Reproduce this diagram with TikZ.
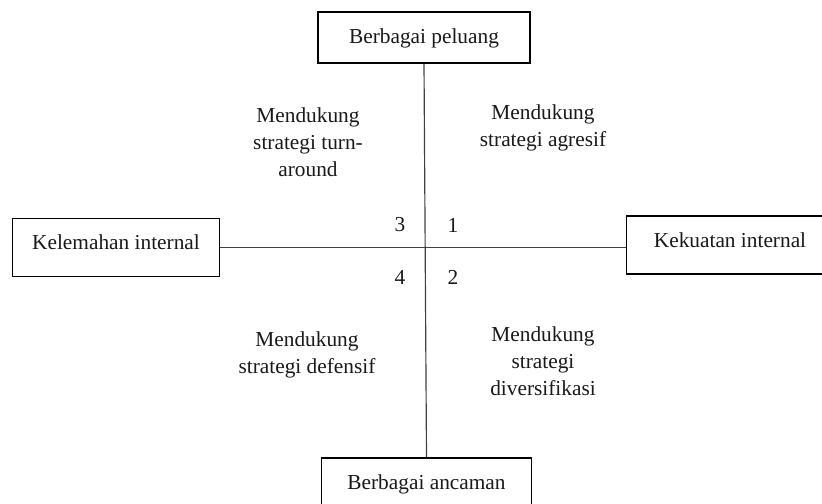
\documentclass[tikz,border=0pt]{standalone}
\usepackage{fontspec}
\setmainfont{Liberation Serif}
\usepackage{tikz}

\begin{document}
\begin{tikzpicture}[x=0.6pt, y=-0.6pt,
        every node/.style = {font=\fontsize{12.8}{16.2}\selectfont, text=black!90},
        kotak/.style = {draw, line width=0.9pt, inner ysep=8pt, inner xsep=0pt,
                text height=10.8pt, text depth=7.8pt, minimum width=124pt},
        isi/.style = {align=center, inner sep=0pt},
        garis/.style = {line width=0.7pt, black!75}]
                \useasboundingbox (0,0) rectangle (822,504);

                \node [kotak, text depth=3.8pt, minimum width=127pt] (peluang) at (424,37.5) {Berbagai peluang};
                \node [kotak] (kelemahan) at (116,247.5) {Kelemahan internal};
                \node [kotak] (kekuatan) at (730,245) {Kekuatan internal};
                \node [kotak, minimum width=126pt] (ancaman) at (426.5,487) {Berbagai ancaman};

                \draw [garis] (peluang.south) -- (ancaman.north);
                \draw [garis] (kelemahan.east) -- (kelemahan.east -| kekuatan.west);

                \node [isi] (turnaround) at (308,142) {Mendukung\\strategi turn-\\around};
                \node [isi] (agresif) at (543,128) {Mendukung\\strategi agresif};
                \node [isi] (defensif) at (307,355) {Mendukung\\strategi defensif};
                \node [isi] (diversifikasi) at (543,361) {Mendukung\\strategi\\diversifikasi};

                % nomor kuadran
                \node (k3) at (400,225) {3};
                \node (k1) at (453,225) {1};
                \node (k4) at (400,277) {4};
                \node (k2) at (453,277) {2};

            \end{tikzpicture}
\end{document}
